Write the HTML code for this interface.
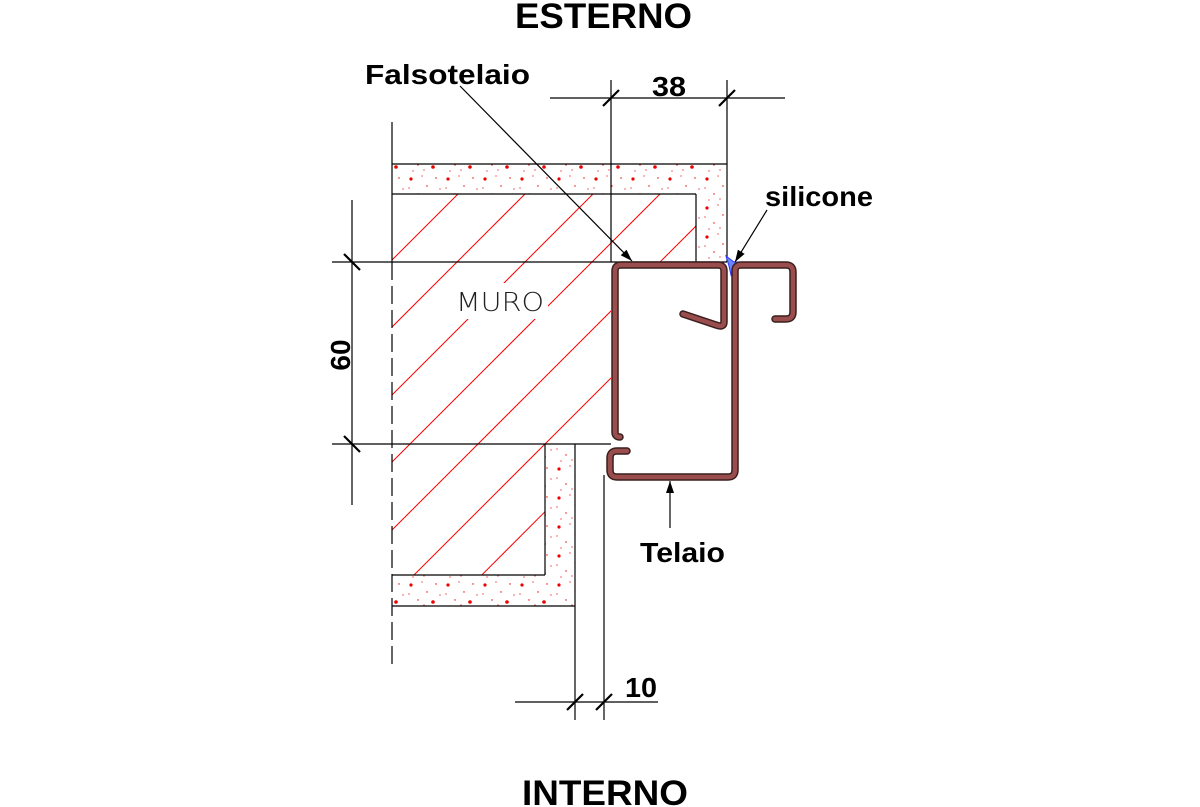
<!DOCTYPE html>
<html><head><meta charset="utf-8"><style>
html,body{margin:0;padding:0;background:#fff}
svg{display:block}
text{font-family:"Liberation Sans",Arial,sans-serif}
</style></head><body>
<svg width="1200" height="807" viewBox="0 0 1200 807" xmlns="http://www.w3.org/2000/svg">
<defs>
<pattern id="dots" width="37" height="29" patternUnits="userSpaceOnUse">
<rect width="37" height="29" fill="#fff"/>
<circle cx="4" cy="5" r="1.6" fill="#e00"/>
<circle cx="20" cy="12" r="0.7" fill="#e00"/>
<circle cx="29" cy="4" r="0.7" fill="#e00"/>
<circle cx="11" cy="20" r="0.7" fill="#e00"/>
<circle cx="26" cy="22" r="1.8" fill="#e00"/>
<circle cx="33" cy="15" r="0.6" fill="#e00"/>
<circle cx="15" cy="2" r="0.6" fill="#e00"/>
<circle cx="6" cy="26" r="0.6" fill="#e00"/>
<circle cx="17" cy="25" r="0.6" fill="#e00"/>
<circle cx="2" cy="14" r="0.6" fill="#e00"/>
</pattern>
<clipPath id="wall"><polygon points="392,194 696,194 696,262 611,262 611,444 545,444 545,575 392,575"/></clipPath>
<marker id="ar" markerWidth="12" markerHeight="8" refX="12" refY="4" orient="auto" markerUnits="userSpaceOnUse"><path d="M0,0 L12,4 L0,8 Z" fill="#000"/></marker>
</defs>

<path d="M392,164 H727 V262 H696 V194 H392 Z" fill="url(#dots)"/>
<path d="M545,444 H575 V606 H392 V575 H545 Z" fill="url(#dots)"/>

<g clip-path="url(#wall)" stroke="#f00" stroke-width="1">
<line x1="258" y1="394" x2="458" y2="194"/>
<line x1="325" y1="394" x2="525" y2="194"/>
<line x1="392" y1="395" x2="593" y2="194"/>
<line x1="392" y1="462" x2="660" y2="194"/>
<line x1="392" y1="530" x2="728" y2="194"/>
<line x1="392" y1="597" x2="795" y2="194"/>
<line x1="392" y1="665" x2="862" y2="194"/>
<line x1="392" y1="732" x2="930" y2="194"/>
</g>
<rect x="452" y="283" width="96" height="36" fill="#fff"/>
<text x="456" y="311" font-size="26" fill="#222" style="font-family:'DejaVu Sans',sans-serif;font-weight:200" textLength="88" lengthAdjust="spacingAndGlyphs">MURO</text>

<g stroke="#000" stroke-width="1.2" fill="none">
<line x1="392" y1="122" x2="392" y2="262"/>
<line x1="392" y1="262" x2="392" y2="665" stroke-dasharray="18,6"/>
<line x1="392" y1="164" x2="727" y2="164"/>
<line x1="392" y1="194" x2="696" y2="194"/>
<line x1="696" y1="194" x2="696" y2="262"/>
<line x1="727" y1="80" x2="727" y2="262"/>
<line x1="611" y1="80" x2="611" y2="262"/>
<line x1="332" y1="262" x2="727" y2="262"/>
<line x1="332" y1="444" x2="611" y2="444"/>
<line x1="545" y1="444" x2="545" y2="575"/>
<line x1="392" y1="575" x2="545" y2="575"/>
<line x1="392" y1="606" x2="575" y2="606"/>
<line x1="575" y1="444" x2="575" y2="720"/>
<line x1="604" y1="475" x2="604" y2="720"/>
<line x1="550" y1="98" x2="785" y2="98"/>
<line x1="352" y1="200" x2="352" y2="505"/>
<line x1="515" y1="702" x2="658" y2="702"/>
</g>
<g stroke="#000" stroke-width="2.2">
<line x1="603" y1="106" x2="619" y2="90"/>
<line x1="719" y1="106" x2="735" y2="90"/>
<line x1="344" y1="254" x2="360" y2="270"/>
<line x1="344" y1="436" x2="360" y2="452"/>
<line x1="567" y1="710" x2="583" y2="694"/>
<line x1="596" y1="710" x2="612" y2="694"/>
</g>

<path d="M726,256 L734,262 L742,262 L734,266 L731,275 L729,266 Z" fill="#68f" stroke="#33f" stroke-width="1"/>

<g fill="none" stroke-linecap="round" stroke-linejoin="round">
<path d="M620,437 Q615,437 615,432 V271 Q615,265 621,265 H718 Q724,265 724,271 V322 Q724,328 716,325 L683,314" stroke="#3a1f1f" stroke-width="7.5"/>
<path d="M620,437 Q615,437 615,432 V271 Q615,265 621,265 H718 Q724,265 724,271 V322 Q724,328 716,325 L683,314" stroke="#9a4d4d" stroke-width="4.5"/>
<path d="M627,451 H617 Q610,451 610,458 V470 Q610,477 617,477 H728 Q735,477 735,470 V271 Q735,265 741,265 H786 Q793,265 793,272 V312 Q793,319 786,319 H775" stroke="#3a1f1f" stroke-width="7.5"/>
<path d="M627,451 H617 Q610,451 610,458 V470 Q610,477 617,477 H728 Q735,477 735,470 V271 Q735,265 741,265 H786 Q793,265 793,272 V312 Q793,319 786,319 H775" stroke="#9a4d4d" stroke-width="4.5"/>
</g>

<g stroke="#000" stroke-width="1.2">
<line x1="460" y1="86" x2="632" y2="261" marker-end="url(#ar)"/>
<line x1="767" y1="210" x2="735" y2="262" marker-end="url(#ar)"/>
<line x1="670" y1="528" x2="670" y2="481" marker-end="url(#ar)"/>
</g>

<g font-weight="bold" fill="#000">
<text x="515" y="28" font-size="35" textLength="177" lengthAdjust="spacingAndGlyphs">ESTERNO</text>
<text x="522" y="805" font-size="35" textLength="166" lengthAdjust="spacingAndGlyphs">INTERNO</text>
<text x="365" y="84" font-size="28" textLength="165" lengthAdjust="spacingAndGlyphs">Falsotelaio</text>
<text x="652" y="96" font-size="28" textLength="34" lengthAdjust="spacingAndGlyphs">38</text>
<text x="765" y="206" font-size="28" textLength="108" lengthAdjust="spacingAndGlyphs">silicone</text>
<text x="640" y="562" font-size="28" textLength="85" lengthAdjust="spacingAndGlyphs">Telaio</text>
<text x="625" y="697" font-size="28" textLength="32" lengthAdjust="spacingAndGlyphs">10</text>
<text x="0" y="0" font-size="28" text-anchor="middle" transform="translate(350,355) rotate(-90)">60</text>
</g>
</svg>
</body></html>
